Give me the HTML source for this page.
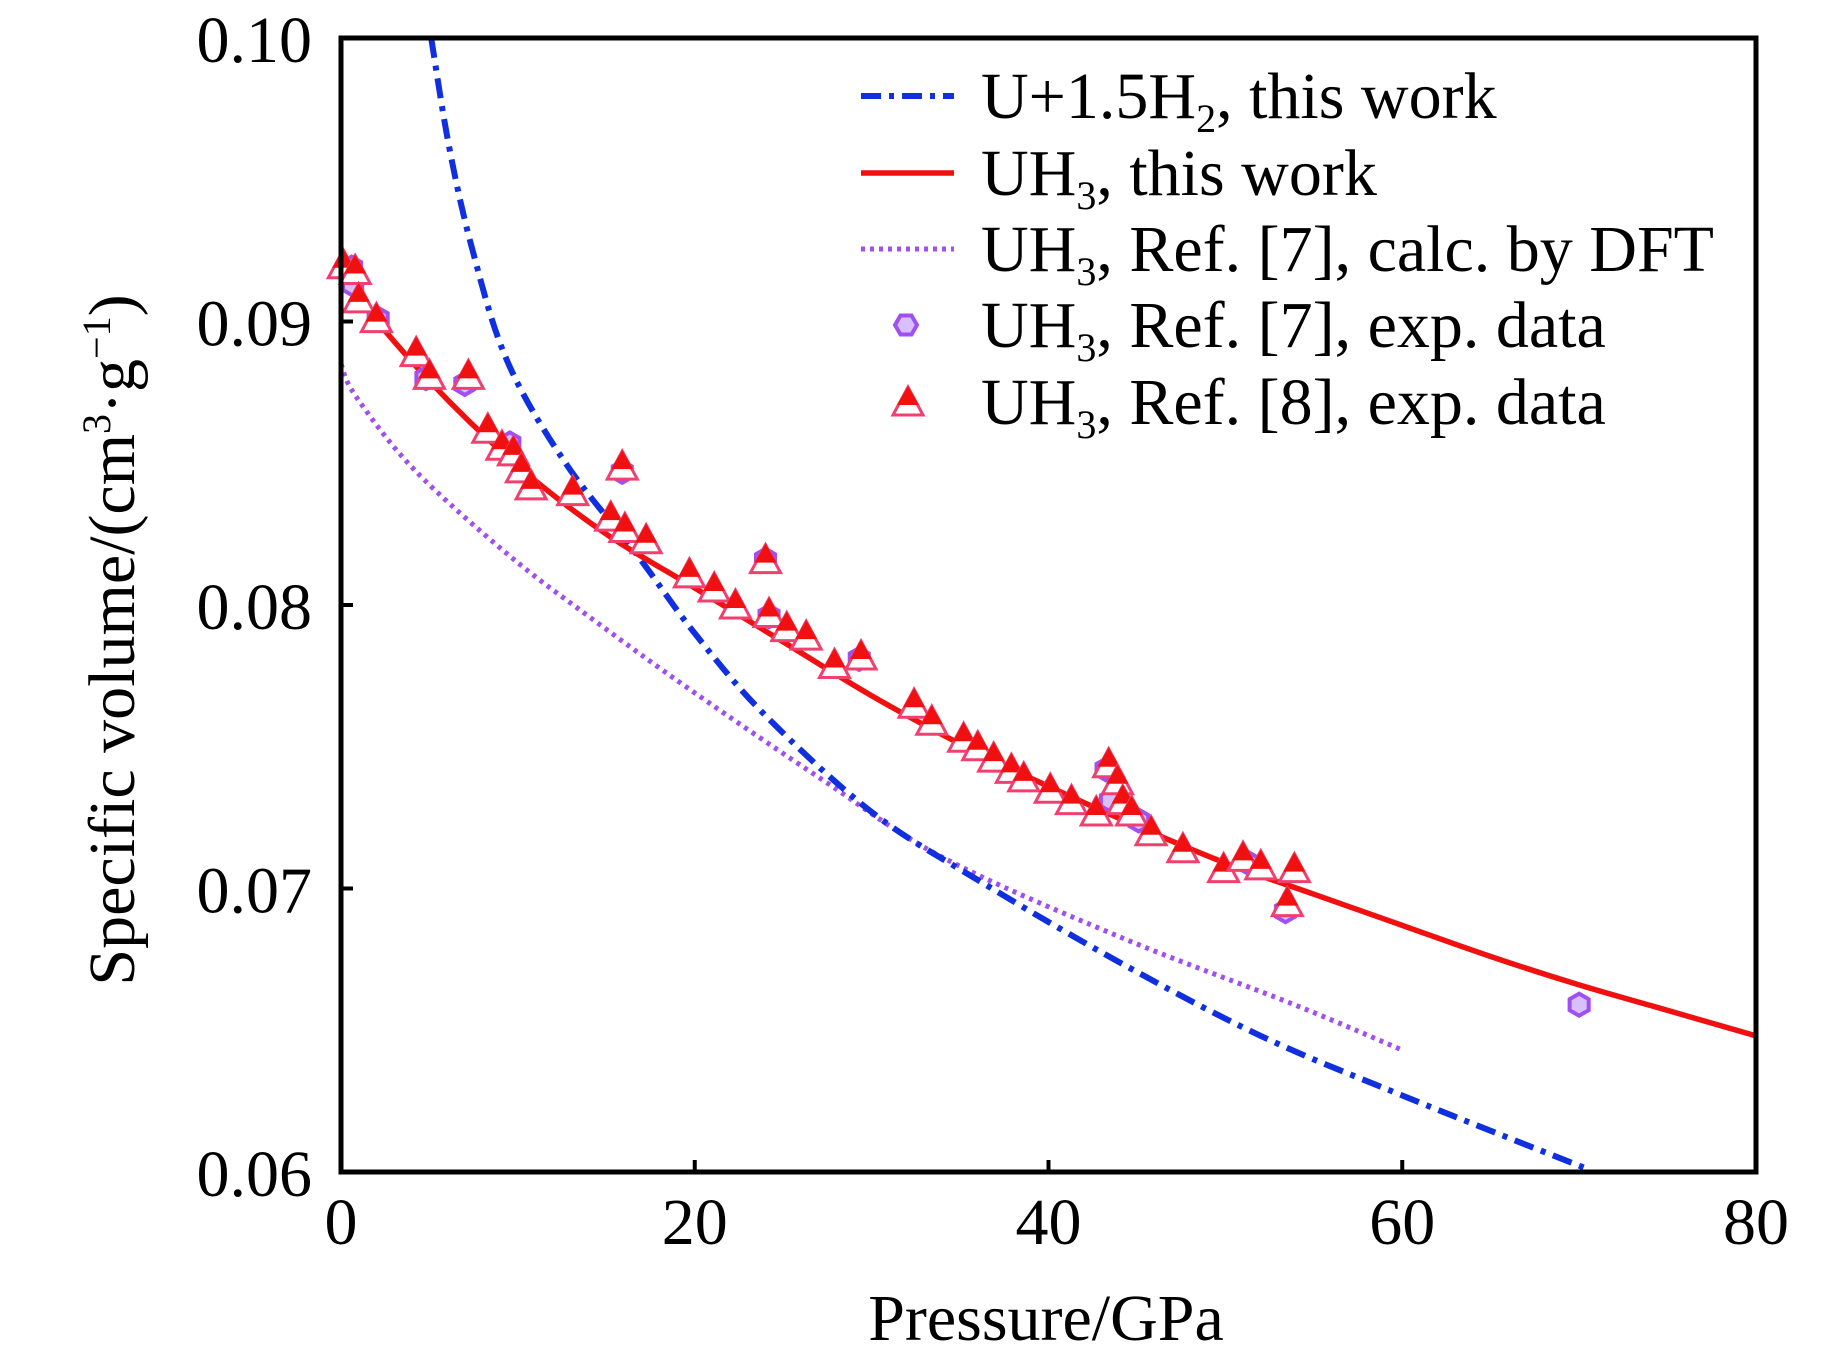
<!DOCTYPE html>
<html><head><meta charset="utf-8"><style>
html,body{margin:0;padding:0;background:#fff;}
svg{display:block;font-family:"Liberation Serif",serif;}
</style></head><body>
<svg id="chart" width="1843" height="1364" viewBox="0 0 1843 1364" xmlns="http://www.w3.org/2000/svg">
<g id="plot"></g>
</svg>
<script>
const xTicks=[0,20,40,60,80];
const yTicks=[0.06,0.07,0.08,0.09,0.10];
const yTickLabels=["0.06","0.07","0.08","0.09","0.10"];
const redP=[0,5,10,15,20,25,30,35,40,45,50,55,60,65,70,75,80];
const redV=[0.0915,0.0879,0.0849,0.0825,0.0806,0.0787,0.0768,0.0751,0.0736,0.0722,0.0709,0.0698,0.0687,0.0676,0.0666,0.0657,0.0648];
const blueP=[5.1,6.1,7.4,9.4,12.7,16.7,20,24,30,36,44,52,60,70.5];
const blueV=[0.1,0.0962,0.0926,0.0886,0.0850,0.0818,0.0790,0.0761,0.0727,0.0703,0.0674,0.0648,0.0627,0.0601];
const dftP=[0,0.8,4.1,9.4,14,20,27.3,34,44,53.9,60];
const dftV=[0.0885,0.0874,0.0848,0.0818,0.0796,0.0769,0.0738,0.0711,0.0683,0.0659,0.0643];
const triP=[0.13,0.8,1.0,2.0,4.25,5.0,7.2,8.3,9.1,9.75,10.2,10.75,13.1,15.25,16.05,15.9,17.25,19.7,21.1,22.3,24.0,24.2,25.2,26.3,27.9,29.4,32.4,33.4,35.2,36.0,36.9,37.9,38.6,40.1,41.3,42.7,43.4,43.9,44.2,44.7,45.8,47.6,49.9,51.0,52.0,53.5,53.9];
const triV=[0.0920,0.0918,0.0908,0.0901,0.0889,0.0881,0.0881,0.0862,0.0856,0.0854,0.0848,0.0842,0.0840,0.0831,0.0827,0.0849,0.0823,0.0811,0.0806,0.0800,0.0816,0.0797,0.0792,0.0789,0.0779,0.0782,0.0765,0.0759,0.0753,0.0750,0.0746,0.0742,0.0739,0.0735,0.0731,0.0727,0.0744,0.0738,0.0731,0.0727,0.0720,0.0714,0.0707,0.0711,0.0708,0.0695,0.0707];
const hexP=[0.6,0.66,2.1,4.8,7.0,9.55,15.9,24.0,24.2,29.3,43.25,43.5,45.1,51.3,53.4,70.0];
const hexV=[0.0919,0.0913,0.0901,0.0880,0.0878,0.0857,0.0847,0.0816,0.0796,0.0781,0.0742,0.0731,0.0724,0.0709,0.0692,0.0659];

const L=341,R=1756,T=38,B=1172;
const xs=p=>L+(p-0)/(80-0)*(R-L);
const ys=v=>B-(v-0.06)/(0.10-0.06)*(B-T);
const NS="http://www.w3.org/2000/svg";
const g=document.getElementById('plot');
function mk(tag,attrs,parent){const e=document.createElementNS(NS,tag);for(const k in attrs)e.setAttribute(k,attrs[k]);(parent||g).appendChild(e);return e;}

const defs=mk('defs',{});
const cp=mk('clipPath',{id:'clip'},defs);
mk('rect',{x:L,y:T-2,width:R-L,height:B-T+2},cp);

function line(P,V,attrs,name){
  const pts=P.map((p,i)=>[xs(p),ys(V[i])]);
  let d='M'+pts[0][0].toFixed(1)+','+pts[0][1].toFixed(1);
  for(let i=0;i<pts.length-1;i++){
    const p0=pts[Math.max(0,i-1)],p1=pts[i],p2=pts[i+1],p3=pts[Math.min(pts.length-1,i+2)];
    const c1=[p1[0]+(p2[0]-p0[0])/6,p1[1]+(p2[1]-p0[1])/6];
    const c2=[p2[0]-(p3[0]-p1[0])/6,p2[1]-(p3[1]-p1[1])/6];
    d+=` C${c1[0].toFixed(1)},${c1[1].toFixed(1)} ${c2[0].toFixed(1)},${c2[1].toFixed(1)} ${p2[0].toFixed(1)},${p2[1].toFixed(1)}`;
  }
  const e=mk('path',Object.assign({d:d,fill:'none','clip-path':'url(#clip)'},attrs));
  
  
}
line(dftP,dftV,{stroke:'#a050f0','stroke-width':5,'stroke-dasharray':'4 5'},'dft-line');
line(blueP,blueV,{stroke:'#1030e0','stroke-width':6,'stroke-dasharray':'20 8 5 8'},'u-h2-line');
line(redP,redV,{stroke:'#f01010','stroke-width':5.5},'uh3-line');

function hex(cx,cy,r,parent){
  let pts=[];for(let k=0;k<6;k++){const a=Math.PI/6+k*Math.PI/3;pts.push((cx+r*Math.cos(a)).toFixed(1)+','+(cy+r*Math.sin(a)).toFixed(1));}
  return mk('polygon',{points:pts.join(' '),fill:'#d8c0ff',stroke:'#a050f0','stroke-width':4},parent);
}
function tri(cx,cy,parent){
  const gg=mk('g',{},parent);
  mk('polygon',{points:`${cx-15},${cy+13} ${cx+15},${cy+13} ${cx},${cy-15}`,fill:'#fff',stroke:'#f04070','stroke-width':3},gg);
  mk('polygon',{points:`${cx-11},${cy+3} ${cx+11},${cy+3} ${cx},${cy-16}`,fill:'#f01010'},gg);
  return gg;
}
hexP.forEach((p,i)=>{
  const e=hex(xs(p),ys(hexV[i]),11);
  
  
});
triP.forEach((p,i)=>{
  const e=tri(xs(p),ys(triV[i]));
  
  
});

const fr=mk('rect',{x:L,y:T,width:R-L,height:B-T,fill:'none',stroke:'#000','stroke-width':5});



xTicks.forEach(t=>{
  mk('line',{x1:xs(t),x2:xs(t),y1:B,y2:B-12,stroke:'#000','stroke-width':4});
  const tx=mk('text',{x:xs(t),y:1244,'font-size':66,'text-anchor':'middle',fill:'#000'});
  tx.textContent=t;
  
  
});
yTicks.forEach((t,i)=>{
  mk('line',{x1:L,x2:L+12,y1:ys(t),y2:ys(t),stroke:'#000','stroke-width':4});
  const tx=mk('text',{x:312,y:ys(t)+24,'font-size':66,'text-anchor':'end',fill:'#000'});
  tx.textContent=yTickLabels[i];
  
  
});
</script>
<svg style="position:absolute;left:0;top:0" width="1843" height="1364" xmlns="http://www.w3.org/2000/svg" font-family="Liberation Serif, serif">
<text x="1046" y="1340" font-size="66" text-anchor="middle">Pressure/GPa</text>
<text transform="translate(134,640) rotate(-90)" font-size="66" text-anchor="middle">Specific volume/(cm<tspan font-size="40" dy="-24">3</tspan><tspan dy="24">·g</tspan><tspan font-size="40" dy="-24">−1</tspan><tspan dy="24">)</tspan></text>
<g font-size="66">
 <line x1="861" y1="96" x2="954" y2="96" stroke="#1030e0" stroke-width="6" stroke-dasharray="20 8 5 8"/>
 <text x="981" y="118">U+1.5H<tspan font-size="40" dy="14">2</tspan><tspan dy="-14">, this work</tspan></text>
 <line x1="861" y1="173" x2="954" y2="173" stroke="#f01010" stroke-width="5.5"/>
 <text x="981" y="195">UH<tspan font-size="40" dy="14">3</tspan><tspan dy="-14">, this work</tspan></text>
 <line x1="861" y1="249" x2="954" y2="249" stroke="#a050f0" stroke-width="5" stroke-dasharray="4 5"/>
 <text x="981" y="271">UH<tspan font-size="40" dy="14">3</tspan><tspan dy="-14">, Ref. [7], calc. by DFT</tspan></text>
 <polygon points="917,325 911.5,334.5 900.5,334.5 895,325 900.5,315.5 911.5,315.5" fill="#d8c0ff" stroke="#a050f0" stroke-width="4"/>
 <text x="981" y="347">UH<tspan font-size="40" dy="14">3</tspan><tspan dy="-14">, Ref. [7], exp. data</tspan></text>
 <polygon points="893,415 923,415 908,387" fill="#fff" stroke="#f04070" stroke-width="3"/>
 <polygon points="897,405 919,405 908,386" fill="#f01010"/>
 <text x="981" y="424">UH<tspan font-size="40" dy="14">3</tspan><tspan dy="-14">, Ref. [8], exp. data</tspan></text>
</g>
</svg>
</body></html>
